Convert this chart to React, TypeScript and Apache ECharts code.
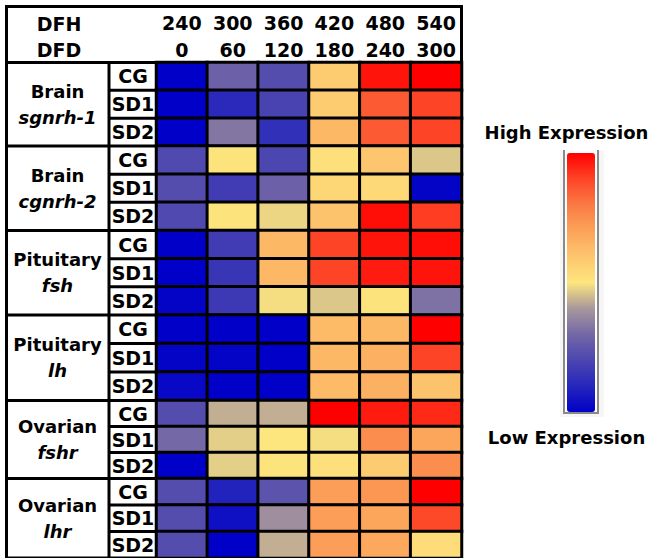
import { useEffect, useRef } from 'react';
import * as echarts from 'echarts';

// ---- data ----
const dfh = ['240', '300', '360', '420', '480', '540'];
const dfd = ['0', '60', '120', '180', '240', '300'];
const treatments = ['CG', 'SD1', 'SD2'];
const tissues = ['Brain', 'Brain', 'Pituitary', 'Pituitary', 'Ovarian', 'Ovarian'];
const genes = ['sgnrh-1', 'cgnrh-2', 'fsh', 'lh', 'fshr', 'lhr'];

// relative expression (0 = lowest, 100 = highest), rows: CG, SD1, SD2
const brainSgnrh1 = [
  [0, 28, 22, 58, 97, 100],
  [0, 11, 19, 58, 86, 90],
  [0, 33, 13, 64, 86, 90],
];
const brainCgnrh2 = [
  [21, 51, 20, 52, 60, 46],
  [22, 17, 28, 55, 54, 1],
  [21, 51, 48, 61, 98, 91],
];
const pituitaryFsh = [
  [0, 17, 64, 90, 97, 98],
  [0, 15, 64, 90, 96, 97],
  [1, 16, 49, 46, 51, 32],
];
const pituitaryLh = [
  [0, 0, 0, 63, 64, 100],
  [1, 1, 0, 64, 66, 90],
  [2, 0, 0, 63, 66, 61],
];
const ovarianFshr = [
  [22, 43, 43, 100, 96, 94],
  [30, 47, 50, 49, 75, 69],
  [0, 47, 51, 52, 58, 75],
];
const ovarianLhr = [
  [22, 9, 24, 71, 73, 100],
  [22, 4, 38, 71, 69, 89],
  [22, 0, 43, 71, 68, 53],
];
const groupValues = [brainSgnrh1, brainCgnrh2, pituitaryFsh, pituitaryLh, ovarianFshr, ovarianLhr];

const scaleColors = ['#0000c8', '#2626bc', '#4c46b0', '#7468a6', '#a8989c', '#fde67e', '#fdc66e', '#fca25a', '#fa7a44', '#fe4426', '#ff0000'];

// ---- layout ----
const W = 656;
const H = 558;
const BOUNDS = [62.5, 146, 230.5, 315, 400.5, 478.5, 558];
const DATA_LEFT = 156.5;
const DATA_RIGHT = 461.5;
const FONT = 'DejaVu Sans';

export default function App() {
  const ref = useRef<HTMLDivElement>(null);

  useEffect(() => {
    if (!ref.current) return;
    const chart = echarts.init(ref.current, null, { renderer: 'svg' });

    const grids: any[] = [];
    const xAxes: any[] = [];
    const yAxes: any[] = [];
    const series: any[] = [];
    const graphics: any[] = [];

    // black frame
    graphics.push({ type: 'rect', z: -10, shape: { x: 5, y: 5, width: 458, height: 556 }, style: { fill: '#000' } });
    // header white
    graphics.push({ type: 'rect', z: -9, shape: { x: 8, y: 8, width: 452, height: 53 }, style: { fill: '#fff' } });
    graphics.push({ type: 'text', z: 10, x: 59, y: 23.5, style: { text: 'DFH', fontFamily: FONT, fontWeight: 'bold', fontSize: 19, fill: '#000', align: 'center', verticalAlign: 'middle' } });
    graphics.push({ type: 'text', z: 10, x: 59, y: 50, style: { text: 'DFD', fontFamily: FONT, fontWeight: 'bold', fontSize: 19, fill: '#000', align: 'center', verticalAlign: 'middle' } });

    groupValues.forEach((vals, g) => {
      const top = BOUNDS[g];
      const h = BOUNDS[g + 1] - top;
      grids.push({ left: DATA_LEFT, top, width: DATA_RIGHT - DATA_LEFT, height: h, containLabel: false });
      xAxes.push({
        type: 'category',
        gridIndex: g,
        data: dfh,
        position: 'top',
        show: g === 0,
        axisLine: { show: false },
        axisTick: { show: false },
        splitLine: { show: false },
        axisLabel: {
          show: g === 0,
          interval: 0,
          margin: -1,
          fontFamily: FONT,
          fontWeight: 'bold',
          fontSize: 19,
          lineHeight: 27,
          color: '#000',
          formatter: (v: string, i: number) => `${v}\n${dfd[i]}`,
        },
      });
      yAxes.push({
        type: 'category',
        gridIndex: g,
        data: treatments,
        inverse: true,
        axisLine: { show: false },
        axisTick: { show: false },
        splitLine: { show: false },
        axisLabel: {
          interval: 0,
          margin: 23.5,
          align: 'center',
          fontFamily: FONT,
          fontWeight: 'bold',
          fontSize: 19,
          color: '#000',
        },
      });
      series.push({
        type: 'heatmap',
        xAxisIndex: g,
        yAxisIndex: g,
        data: vals.flatMap((row, r) => row.map((v, c) => [c, r, v])),
        itemStyle: { borderColor: '#000', borderWidth: 3 },
        emphasis: { disabled: true },
        label: { show: false },
      });
      // label cells
      graphics.push({ type: 'rect', z: -9, shape: { x: 8, y: top + 1.5, width: 99.5, height: h - 3 }, style: { fill: '#fff' } });
      for (let k = 0; k < 3; k++) {
        graphics.push({ type: 'rect', z: -9, shape: { x: 110.5, y: top + (k * h) / 3 + 1.5, width: 44.5, height: h / 3 - 3 }, style: { fill: '#fff' } });
      }
      graphics.push({
        type: 'text',
        z: 10,
        x: 57.5,
        y: top + h / 2,
        style: {
          text: `{a|${tissues[g]}}\n{b|${genes[g]}}`,
          align: 'center',
          verticalAlign: 'middle',
          rich: {
            a: { fontFamily: FONT, fontWeight: 'bold', fontSize: 18, lineHeight: 26, fill: '#000', align: 'center' },
            b: { fontFamily: FONT, fontWeight: 'bold', fontStyle: 'italic', fontSize: 18, lineHeight: 26, fill: '#000', align: 'center' },
          },
        },
      });
    });

    // colour bar frame
    graphics.push({ type: 'rect', z: -9, shape: { x: 560, y: 150, width: 44, height: 267 }, style: { fill: '#f6f6f6' } });
    graphics.push({ type: 'rect', z: -8, shape: { x: 564, y: 150, width: 34, height: 263 }, style: { fill: '#fff' } });
    graphics.push({ type: 'polyline', z: -7, shape: { points: [[564, 150], [564, 413], [598, 413], [598, 150]] }, style: { stroke: '#8a8a8a', lineWidth: 2, fill: null } });
    graphics.push({ type: 'text', z: 10, x: 566.5, y: 132, style: { text: 'High Expression', fontFamily: FONT, fontWeight: 'bold', fontSize: 18, fill: '#000', align: 'center', verticalAlign: 'middle' } });
    graphics.push({ type: 'text', z: 10, x: 566.5, y: 437, style: { text: 'Low Expression', fontFamily: FONT, fontWeight: 'bold', fontSize: 18, fill: '#000', align: 'center', verticalAlign: 'middle' } });

    chart.setOption({
      animation: false,
      backgroundColor: '#fff',
      grid: grids,
      xAxis: xAxes,
      yAxis: yAxes,
      visualMap: {
        type: 'continuous',
        min: 0,
        max: 100,
        orient: 'vertical',
        left: 567,
        top: 153,
        itemWidth: 28,
        itemHeight: 259,
        padding: 0,
        calculable: false,
        hoverLink: false,
        seriesIndex: series.map((_, i) => i),
        inRange: { color: scaleColors },
      },
      graphic: { elements: graphics },
      series,
    });

    return () => chart.dispose();
  }, []);

  return <div ref={ref} style={{ position: 'fixed', left: 0, top: 0, width: W, height: H, background: '#fff' }} />;
}
